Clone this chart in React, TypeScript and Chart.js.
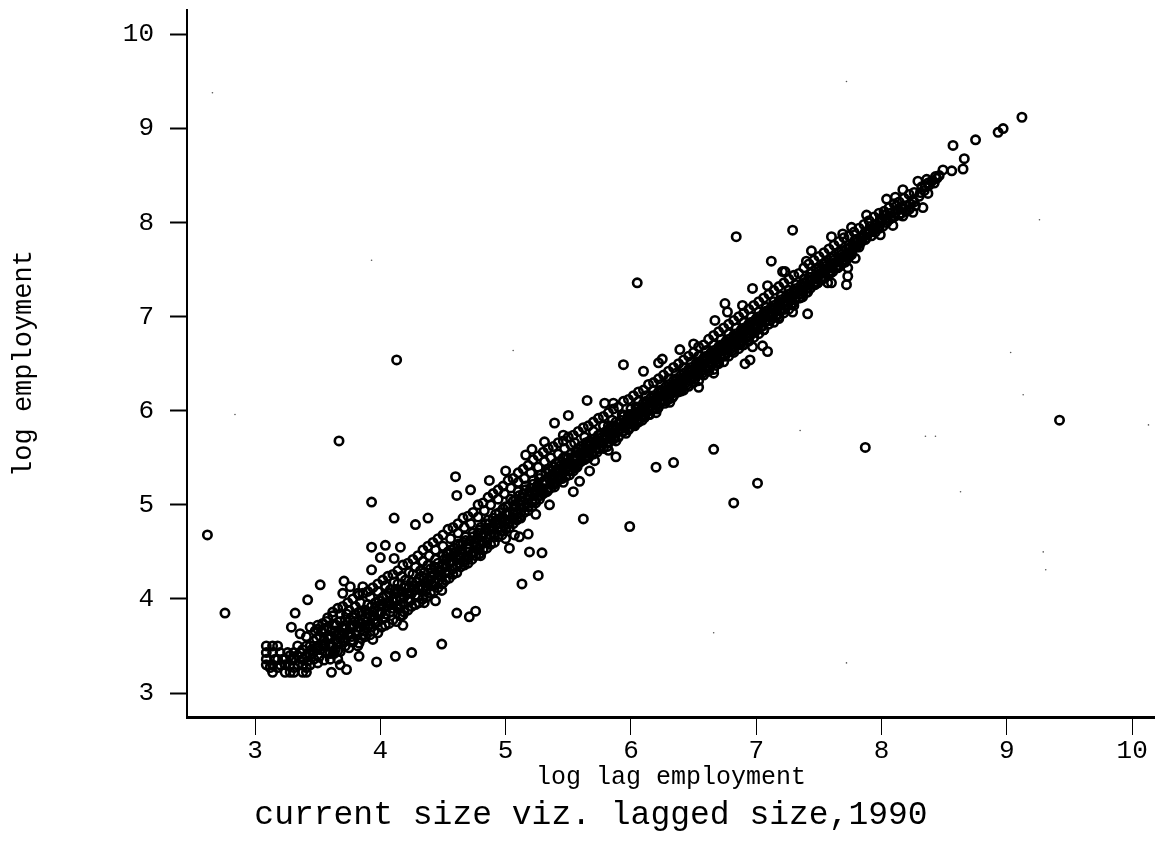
import React, { useEffect, useRef } from "react";
import { Chart, registerables } from "chart.js";

Chart.register(...registerables);

type P = [number, number];

const xTicks = [3, 4, 5, 6, 7, 8, 9, 10];
const yTicks = [3, 4, 5, 6, 7, 8, 9, 10];
const xTitle = "log lag employment";
const yTitle = "log employment";
const chartTitle = "current size viz. lagged size,1990";

const floorCorner: P[] = [
  [3.09,3.30],[3.09,3.36],[3.09,3.43],[3.09,3.50],[3.14,3.22],[3.14,3.30],[3.14,3.43],[3.14,3.50],[3.18,3.27],[3.18,3.36],[3.18,3.50],
  [3.20,3.30],[3.20,3.43],[3.24,3.22],[3.24,3.30],[3.24,3.36],[3.28,3.22],[3.28,3.30],[3.28,3.40],[3.31,3.22],[3.31,3.27],[3.31,3.36],[3.31,3.43],
  [3.34,3.30],[3.34,3.40],[3.34,3.50],[3.38,3.22],[3.38,3.30],[3.38,3.36],[3.38,3.46],[3.41,3.22],[3.41,3.27],[3.41,3.40],[3.41,3.50],[3.41,3.60],
  [3.44,3.30],[3.44,3.40],[3.44,3.50],[3.44,3.70],[3.55,3.35],[3.60,3.36],[3.66,3.36],[3.68,3.30],
  [3.16,3.36],[3.22,3.36],[3.26,3.43],[3.29,3.36],[3.36,3.43],[3.12,3.27],[3.42,3.34],[3.47,3.36],[3.5,3.32],[3.58,3.42],[3.63,3.42],
];

const bandLower: P[] = [
  [3.46,3.42],[3.47,3.55],[3.48,3.66],[3.49,3.48],[3.5,3.72],[3.51,3.38],[3.52,3.6],[3.54,3.5],[3.55,3.68],[3.56,3.44],[3.57,3.76],[3.58,3.58],[3.6,3.5],[3.61,3.66],[3.62,3.82],[3.64,3.56],[3.65,3.72],[3.66,3.45],[3.67,3.62],[3.68,3.84],[3.7,3.7],[3.71,3.54],[3.72,3.78],[3.74,3.62],[3.75,3.88],[3.76,3.7],[3.78,3.56],[3.79,3.8],[3.8,3.92],[3.81,3.66],[3.83,3.76],[3.84,3.96],[3.85,3.86],[3.87,3.66],[3.88,3.8],[3.9,3.94],[3.91,3.72],[3.92,4.02],[3.94,3.86],[3.95,3.78],[3.96,3.96],[3.98,4.08],[3.99,3.84],[4.0,3.94],[4.02,4.02],[4.03,3.8],[4.04,4.14],[4.06,3.92],[4.07,4.06],[4.08,3.86],[4.1,4.0],[4.11,4.18],[4.13,3.92],[4.14,4.1],[4.16,4.0],[4.17,4.24],[4.18,3.96],[4.2,4.14],[4.21,4.06],[4.23,4.28],[4.24,3.98],[4.25,4.18],[4.27,4.1],[4.28,4.34],[4.3,4.02],[4.31,4.22],[4.32,4.14],[4.34,4.4],[4.35,4.28],[4.36,4.08],[4.38,4.2],[4.39,4.46],[4.4,4.32],[4.42,4.14],[4.43,4.26],[4.44,4.52],[4.46,4.38],[4.47,4.2],[4.48,4.3],[4.5,4.56],[4.51,4.42],
];

const bandMiddle: P[] = [
  [4.52,4.28],[4.54,4.5],[4.55,4.38],[4.56,4.64],[4.58,4.32],[4.59,4.54],[4.6,4.44],[4.62,4.7],[4.63,4.38],[4.64,4.58],[4.66,4.48],[4.67,4.76],[4.68,4.62],[4.7,4.44],[4.71,4.54],[4.72,4.8],[4.74,4.66],[4.75,4.5],[4.76,4.6],[4.78,4.87],[4.79,4.73],[4.8,4.58],[4.82,4.68],[4.83,4.94],[4.84,4.8],[4.86,4.64],[4.87,4.74],[4.88,5.0],[4.9,4.86],[4.91,4.7],[4.92,4.8],[4.94,5.06],[4.95,4.92],[4.96,4.76],[4.98,4.86],[4.99,5.12],[5.0,4.98],[5.02,4.8],[5.03,4.92],[5.04,5.18],[5.06,5.04],[5.07,4.86],[5.08,4.98],[5.1,5.24],[5.11,5.1],[5.12,4.92],[5.14,5.04],[5.15,5.28],[5.16,5.16],[5.18,4.98],[5.19,5.1],[5.2,5.34],[5.22,5.22],[5.23,5.04],[5.24,5.16],[5.26,5.4],[5.27,5.28],[5.28,5.1],[5.3,5.22],[5.31,5.46],[5.32,5.34],[5.34,5.16],[5.35,5.28],[5.36,5.5],[5.38,5.4],[5.39,5.24],[5.4,5.34],[5.42,5.54],[5.43,5.46],[5.44,5.3],[5.46,5.4],[5.47,5.6],[5.48,5.5],[5.5,5.36],[5.51,5.46],[5.52,5.64],
];

const bandUpperMiddle: P[] = [
  [5.54,5.48],[5.55,5.66],[5.57,5.56],[5.58,5.44],[5.6,5.62],[5.61,5.52],[5.63,5.72],[5.64,5.58],[5.66,5.5],[5.67,5.68],[5.69,5.6],[5.7,5.78],[5.72,5.64],[5.73,5.56],[5.75,5.74],[5.76,5.66],[5.78,5.84],[5.79,5.7],[5.81,5.62],[5.82,5.8],[5.84,5.74],[5.85,5.9],[5.87,5.76],[5.88,5.68],[5.9,5.86],[5.91,5.8],[5.93,5.96],[5.94,5.84],[5.96,5.76],[5.97,5.92],[5.99,5.86],[6.0,6.02],[6.02,5.92],[6.03,5.84],[6.05,5.98],[6.06,6.1],[6.08,5.98],[6.09,5.9],[6.11,6.04],[6.12,6.16],[6.14,6.04],[6.15,5.96],[6.17,6.1],[6.18,6.22],[6.2,6.1],[6.21,6.02],[6.23,6.16],[6.24,6.28],[6.26,6.16],[6.27,6.08],[6.29,6.22],[6.3,6.34],[6.32,6.22],[6.33,6.14],[6.35,6.28],[6.36,6.4],[6.38,6.28],[6.39,6.22],[6.41,6.34],[6.42,6.46],[6.44,6.34],[6.45,6.28],[6.47,6.42],[6.48,6.52],[6.5,6.4],[6.51,6.34],[6.53,6.48],[6.54,6.58],[6.56,6.46],[6.57,6.4],[6.59,6.54],[6.6,6.64],[6.62,6.52],[6.63,6.46],[6.65,6.6],[6.66,6.7],[6.68,6.58],[6.69,6.52],[6.71,6.66],[6.72,6.76],[6.74,6.64],[6.75,6.58],[6.77,6.72],[6.78,6.82],[6.8,6.7],[6.81,6.64],[6.83,6.78],[6.84,6.88],[6.86,6.76],[6.87,6.7],[6.89,6.84],[6.9,6.94],[6.92,6.82],[6.93,6.78],[6.95,6.9],[6.96,7.0],[6.98,6.88],[6.99,6.84],
];

const bandTop: P[] = [
  [7.01,6.96],[7.02,7.05],[7.04,6.94],[7.05,6.9],[7.07,7.02],[7.08,7.1],[7.1,7.0],[7.11,6.96],[7.13,7.08],[7.14,7.16],[7.16,7.06],[7.17,7.02],[7.19,7.14],[7.2,7.22],[7.22,7.12],[7.23,7.08],[7.25,7.2],[7.26,7.28],[7.28,7.18],[7.29,7.14],[7.31,7.26],[7.32,7.34],[7.34,7.24],[7.35,7.2],[7.37,7.32],[7.38,7.4],[7.4,7.3],[7.41,7.26],[7.43,7.38],[7.44,7.46],[7.46,7.36],[7.47,7.34],[7.49,7.44],[7.5,7.52],[7.52,7.42],[7.53,7.4],[7.55,7.5],[7.56,7.58],[7.58,7.48],[7.59,7.46],[7.61,7.56],[7.62,7.64],[7.64,7.54],[7.65,7.52],[7.67,7.62],[7.68,7.7],[7.7,7.6],[7.71,7.58],[7.73,7.68],[7.74,7.76],[7.76,7.66],[7.77,7.72],[7.79,7.74],[7.8,7.82],[7.82,7.74],[7.84,7.8],[7.86,7.86],[7.88,7.84],[7.9,7.92],[7.92,7.86],[7.94,7.92],[7.96,7.98],[7.98,7.94],[8.0,8.02],[8.02,8.08],[8.04,8.0],[8.07,8.1],[8.1,8.06],[8.13,8.14],[8.16,8.1],[8.19,8.18],[8.22,8.14],[8.25,8.24],[8.27,8.18],[8.3,8.28],[8.32,8.38],[8.34,8.34],[8.37,8.42],[8.4,8.44],[8.42,8.42],[8.44,8.47],[8.46,8.5],
];

const denseLower: P[] = [
  [3.45,3.46],[3.47,3.44],[3.49,3.58],[3.5,3.5],[3.52,3.46],[3.53,3.66],[3.55,3.56],[3.56,3.5],[3.58,3.7],[3.59,3.52],[3.61,3.6],[3.62,3.5],[3.63,3.72],[3.65,3.62],[3.66,3.54],[3.68,3.76],[3.69,3.62],[3.7,3.56],[3.72,3.68],[3.73,3.84],[3.75,3.64],[3.76,3.78],[3.77,3.6],[3.79,3.72],[3.8,3.84],[3.82,3.7],[3.83,3.86],[3.85,3.74],[3.86,3.62],[3.88,3.88],[3.89,3.76],[3.9,3.84],[3.92,3.7],[3.93,3.92],[3.95,3.82],[3.96,3.9],[3.98,3.76],[3.99,3.98],[4.01,3.86],[4.02,3.94],[4.04,3.84],[4.05,4.04],[4.07,3.96],[4.08,4.1],[4.1,3.9],[4.11,4.06],[4.13,3.98],[4.14,4.16],[4.16,3.94],[4.17,4.08],[4.19,4.02],[4.2,4.2],[4.22,4.0],[4.23,4.12],[4.25,4.06],[4.26,4.26],[4.28,4.04],[4.29,4.18],[4.31,4.1],[4.32,4.3],[4.34,4.12],[4.35,4.22],[4.37,4.14],[4.38,4.36],[4.4,4.2],[4.41,4.28],[4.43,4.18],[4.44,4.42],[4.46,4.26],[4.47,4.34],[4.49,4.24],[4.5,4.46],[4.52,4.34],[4.53,4.42],[4.55,4.28],[4.56,4.52],[4.58,4.4],[4.59,4.48],[4.61,4.36],[4.62,4.58],[4.64,4.44],[4.65,4.52],[4.67,4.42],[4.68,4.66],[4.7,4.5],[4.71,4.58],[4.73,4.48],[4.74,4.7],[4.76,4.56],[4.77,4.64],[4.79,4.54],[4.8,4.76],[4.82,4.6],[4.83,4.7],[4.85,4.6],[4.86,4.84],[4.88,4.68],[4.89,4.76],[4.91,4.66],[4.92,4.9],[4.94,4.76],[4.95,4.84],[4.97,4.72],[4.98,4.96],[5.0,4.84],
];

const denseMiddle: P[] = [
  [5.01,4.92],[5.03,4.82],[5.04,5.06],[5.06,4.92],[5.07,5.0],[5.09,4.9],[5.1,5.14],[5.12,5.0],[5.13,5.08],[5.15,4.98],[5.16,5.2],[5.18,5.06],[5.19,5.14],[5.21,5.04],[5.22,5.26],[5.24,5.12],[5.25,5.2],[5.27,5.1],[5.28,5.32],[5.3,5.16],[5.31,5.26],[5.33,5.16],[5.34,5.38],[5.36,5.24],[5.37,5.32],[5.39,5.28],[5.4,5.44],[5.42,5.3],[5.43,5.38],[5.45,5.34],[5.46,5.5],[5.48,5.38],[5.49,5.44],[5.51,5.36],[5.52,5.54],[5.54,5.44],[5.55,5.5],[5.57,5.42],[5.58,5.6],[5.6,5.5],[5.61,5.56],[5.63,5.48],[5.64,5.66],[5.66,5.56],[5.67,5.62],[5.69,5.54],[5.7,5.7],[5.72,5.6],[5.73,5.68],[5.75,5.6],[5.76,5.76],[5.78,5.66],[5.79,5.74],[5.81,5.66],[5.82,5.84],[5.84,5.72],[5.85,5.8],[5.87,5.72],[5.88,5.88],[5.9,5.78],[5.91,5.86],[5.93,5.78],[5.94,5.94],[5.96,5.84],[5.97,5.9],[5.99,5.82],[6.0,5.96],[6.02,5.88],[6.03,5.98],[6.05,5.9],[6.06,6.04],[6.08,5.94],[6.09,6.02],[6.11,5.96],[6.12,6.1],[6.14,6.0],[6.15,6.08],[6.17,6.02],[6.18,6.16],[6.2,6.06],[6.21,6.14],[6.23,6.08],[6.24,6.22],[6.26,6.12],[6.27,6.2],[6.29,6.14],[6.3,6.28],[6.32,6.18],[6.33,6.26],[6.35,6.2],[6.36,6.34],[6.38,6.24],[6.39,6.32],[6.41,6.26],[6.42,6.4],[6.44,6.3],[6.45,6.38],[6.47,6.32],[6.48,6.46],[6.5,6.36],
];

const denseTop: P[] = [
  [6.51,6.44],[6.53,6.38],[6.54,6.52],[6.56,6.42],[6.57,6.5],[6.59,6.44],[6.6,6.58],[6.62,6.48],[6.63,6.56],[6.65,6.5],[6.66,6.64],[6.68,6.54],[6.69,6.62],[6.71,6.56],[6.72,6.7],[6.74,6.6],[6.75,6.68],[6.77,6.62],[6.78,6.76],[6.8,6.66],[6.81,6.74],[6.83,6.68],[6.84,6.82],[6.86,6.72],[6.87,6.8],[6.89,6.74],[6.9,6.88],[6.92,6.78],[6.93,6.86],[6.95,6.8],[6.96,6.94],[6.98,6.84],[6.99,6.92],[7.01,6.88],[7.02,7.0],[7.04,6.9],[7.05,6.98],[7.07,6.94],[7.08,7.06],[7.1,6.96],[7.11,7.04],[7.13,7.0],[7.14,7.12],[7.16,7.02],[7.17,7.1],[7.19,7.06],[7.2,7.18],[7.22,7.08],[7.23,7.16],[7.25,7.12],[7.26,7.24],[7.28,7.14],[7.29,7.22],[7.31,7.18],[7.32,7.3],[7.34,7.2],[7.35,7.28],[7.37,7.24],[7.38,7.36],[7.4,7.26],[7.41,7.34],[7.43,7.3],[7.44,7.42],[7.46,7.34],[7.47,7.4],[7.49,7.36],[7.5,7.48],[7.52,7.4],[7.53,7.46],[7.55,7.42],[7.56,7.54],[7.58,7.46],[7.59,7.52],[7.61,7.48],[7.62,7.6],[7.64,7.52],[7.65,7.58],[7.67,7.54],[7.68,7.66],[7.7,7.58],[7.71,7.64],[7.73,7.62],[7.74,7.72],[7.76,7.68],[7.78,7.76],[7.8,7.74],[7.81,7.8],[7.83,7.78],[7.85,7.84],[7.87,7.82],[7.89,7.88],[7.91,7.9],[7.93,7.94],[7.95,7.9],[7.97,7.96],[7.99,8.0],[8.01,7.96],[8.03,8.04],[8.05,8.02],[8.08,8.06],[8.11,8.1],[8.14,8.08],[8.17,8.14],[8.2,8.12],[8.23,8.2],[8.26,8.22],[8.31,8.32],[8.35,8.38],[8.38,8.4],
];

const flankLower: P[] = [
  [3.6,3.42],[3.64,3.46],[3.68,3.44],[3.72,3.5],[3.75,3.48],[3.78,3.54],[3.82,3.5],[3.85,3.58],[3.88,3.6],[3.92,3.62],[3.95,3.66],[3.98,3.64],[4.01,3.7],[4.04,3.72],[4.07,3.74],[4.1,3.78],[4.13,3.76],[4.16,3.82],[4.19,3.86],[4.22,3.88],[4.25,3.92],[4.28,3.94],[4.31,3.96],[4.34,4.0],[4.37,4.02],[4.4,4.06],[4.43,4.08],[4.46,4.12],[4.49,4.16],[4.52,4.2],[4.55,4.22],[4.58,4.26],[4.61,4.28],[4.64,4.34],[4.67,4.36],[4.7,4.38],[4.73,4.42],[4.76,4.46],[4.79,4.48],[4.82,4.52],[4.85,4.54],[4.88,4.58],[4.91,4.6],[4.94,4.66],[4.97,4.68],[5.0,4.74],[5.03,4.76],[5.06,4.8],[5.09,4.84],[5.12,4.86],[5.15,4.92],[5.18,4.94],[5.21,4.98],[5.24,5.02],[5.27,5.06],[5.3,5.12],[5.33,5.14],[5.36,5.18],[5.39,5.22],[5.42,5.26],[5.45,5.28],[5.48,5.3],[5.51,5.32],[5.54,5.36],[5.57,5.4],[5.6,5.46],[5.63,5.5],[5.66,5.52],[5.7,5.54],[5.74,5.6],[5.78,5.6],[5.82,5.66],[5.86,5.7],[5.9,5.72],[5.94,5.78],[5.98,5.8],[6.02,5.86],[6.06,5.88],[6.1,5.94],[6.14,5.96],[6.18,6.02],[6.22,6.04],[6.26,6.1],[6.3,6.12],[6.34,6.16],[6.38,6.2],[6.42,6.22],[6.46,6.26],[6.5,6.3],[6.54,6.32],[6.58,6.38],[6.62,6.42],[6.66,6.44],[6.7,6.5],[6.74,6.52],[6.78,6.58],[6.82,6.62],[6.86,6.66],[6.9,6.7],[6.94,6.74],[6.98,6.78],[7.02,6.82],[7.06,6.86],[7.1,6.92],[7.14,6.94],[7.18,7.0],[7.22,7.04],[7.26,7.08],[7.3,7.12],
];

const flankUpper: P[] = [
  [3.5,3.68],[3.54,3.74],[3.58,3.8],[3.62,3.86],[3.66,3.9],[3.7,3.92],[3.74,3.96],[3.78,4.0],[3.82,4.06],[3.86,4.06],[3.9,4.08],[3.94,4.12],[3.98,4.16],[4.02,4.2],[4.06,4.24],[4.1,4.26],[4.14,4.3],[4.18,4.36],[4.22,4.38],[4.26,4.42],[4.3,4.46],[4.34,4.52],[4.38,4.56],[4.42,4.6],[4.46,4.64],[4.5,4.68],[4.54,4.74],[4.58,4.76],[4.62,4.8],[4.66,4.86],[4.7,4.88],[4.74,4.92],[4.78,5.0],[4.82,5.02],[4.86,5.08],[4.9,5.12],[4.94,5.16],[4.98,5.2],[5.02,5.26],[5.06,5.28],[5.1,5.34],[5.14,5.38],[5.18,5.42],[5.22,5.48],[5.26,5.52],[5.3,5.56],[5.34,5.6],[5.38,5.62],[5.42,5.66],[5.46,5.68],[5.5,5.72],[5.54,5.74],[5.58,5.78],[5.62,5.82],[5.66,5.84],[5.7,5.88],[5.74,5.92],[5.78,5.94],[5.82,5.98],[5.86,6.02],[5.9,6.04],[5.94,6.1],[5.98,6.12],[6.02,6.16],[6.06,6.2],[6.1,6.22],[6.14,6.28],[6.18,6.3],[6.22,6.34],[6.26,6.38],[6.3,6.42],[6.34,6.46],[6.38,6.5],[6.42,6.54],[6.46,6.58],[6.5,6.62],[6.54,6.68],[6.58,6.7],[6.62,6.76],[6.66,6.8],[6.7,6.84],[6.74,6.88],[6.78,6.92],[6.82,6.96],[6.86,7.0],[6.9,7.04],[6.94,7.08],[6.98,7.12],[7.02,7.16],[7.06,7.2],[7.1,7.24],[7.14,7.28],[7.18,7.32],[7.22,7.36],[7.26,7.4],[7.3,7.44],[7.34,7.46],[7.38,7.52],[7.42,7.56],[7.46,7.6],[7.5,7.64],[7.54,7.68],[7.58,7.72],[7.62,7.76],[7.66,7.8],[7.7,7.84],[7.74,7.86],[7.78,7.9],[7.82,7.94],[7.86,7.98],[7.9,8.02],[7.94,8.06],[7.98,8.1],[8.02,8.12],[8.06,8.16],[8.1,8.2],[8.14,8.22],[8.18,8.26],[8.22,8.3],[8.26,8.32],
];

const fillCore: P[] = [
  [3.6,3.58],[3.64,3.66],[3.68,3.58],[3.72,3.72],[3.76,3.64],[3.8,3.76],[3.84,3.7],[3.88,3.72],[3.92,3.82],[3.96,3.74],[4.0,3.84],[4.04,3.96],[4.08,3.94],[4.12,4.1],[4.15,3.9],[4.19,4.12],[4.23,4.06],[4.26,4.14],[4.3,4.12],[4.33,4.24],[4.36,4.18],[4.4,4.24],[4.43,4.34],[4.46,4.3],[4.5,4.36],[4.53,4.48],[4.56,4.4],[4.6,4.5],[4.63,4.46],[4.66,4.6],[4.69,4.54],[4.72,4.62],[4.75,4.6],[4.78,4.7],[4.81,4.66],[4.84,4.74],[4.87,4.8],[4.9,4.74],[4.93,4.84],[4.96,4.86],[4.99,4.78],[5.02,4.98],[5.05,4.86],[5.08,5.06],[5.11,4.96],[5.14,5.12],[5.17,5.02],[5.2,5.18],[5.23,5.1],[5.26,5.22],[5.29,5.16],[5.32,5.24],[5.35,5.36],[5.38,5.3],[5.41,5.38],[5.44,5.42],[5.47,5.44],[5.5,5.5],[5.53,5.42],[5.56,5.56],[5.59,5.54],[5.62,5.6],[5.65,5.64],[5.68,5.66],[5.71,5.66],[5.74,5.74],[5.77,5.72],[5.8,5.78],[5.83,5.76],[5.86,5.84],[5.89,5.82],[5.92,5.9],[5.95,5.88],[5.98,5.96],[6.01,5.92],[6.04,6.04],[6.07,6.0],[6.1,6.08],[6.13,6.08],[6.16,6.14],[6.19,6.12],[6.22,6.2],[6.25,6.2],[6.28,6.26],[6.31,6.24],[6.34,6.32],[6.37,6.3],[6.4,6.38],[6.43,6.36],[6.46,6.44],[6.49,6.42],[6.52,6.5],[6.55,6.48],[6.58,6.56],[6.61,6.54],[6.64,6.62],[6.67,6.6],[6.7,6.68],[6.73,6.66],[6.76,6.74],[6.79,6.72],[6.82,6.8],[6.85,6.78],[6.88,6.86],[6.91,6.84],[6.94,6.92],[6.97,6.9],[7.0,6.98],[7.03,6.96],[7.06,7.04],[7.09,7.02],[7.12,7.1],[7.15,7.08],[7.18,7.16],[7.21,7.14],[7.24,7.22],[7.27,7.2],[7.3,7.28],[7.33,7.26],[7.36,7.34],[7.39,7.32],[7.42,7.42],[7.45,7.4],[7.48,7.5],[7.51,7.46],[7.54,7.56],[7.57,7.52],[7.6,7.62],[7.63,7.58],[7.66,7.68],[7.69,7.64],[7.72,7.72],[7.75,7.74],[7.79,7.82],[7.83,7.84],[7.87,7.9],[7.91,7.96],[7.95,7.98],[7.99,8.04],[8.03,8.08],[8.07,8.04],[8.12,8.18],[8.16,8.16],
];

const strayLow: P[] = [
  [2.62,4.68],[2.76,3.85],[3.67,5.68],[4.13,6.54],[4.60,5.30],[4.61,5.10],[4.72,5.16],[3.93,5.03],[4.11,4.86],[4.38,4.86],[4.28,4.79],[3.93,4.55],[4.04,4.57],[4.16,4.55],[4.0,4.44],[4.11,4.43],[3.93,4.31],[3.52,4.15],[3.71,4.19],[3.76,4.13],[3.86,4.13],[3.70,4.06],[3.83,4.04],[3.42,3.99],[3.32,3.85],[3.29,3.70],[3.36,3.63],
  [4.49,3.52],[4.25,3.43],[4.12,3.39],[3.97,3.33],[3.83,3.39],[3.61,3.22],[3.73,3.25],[4.61,3.85],[4.71,3.81],[4.76,3.87],[5.13,4.16],[5.26,4.25],[5.19,4.50],[5.29,4.49],[5.03,4.54],[5.0,4.64],[5.07,4.68],[5.11,4.66],[5.18,4.69],[4.80,4.46],[4.66,4.39],[4.50,4.17],[4.49,4.09],[4.44,3.98],[4.35,3.96],[4.18,3.72],[4.18,3.83],[3.94,3.57],[3.83,3.53],[5.35,5.0],[5.24,4.90],[5.11,4.87],[4.87,5.26],[5.0,5.36],[5.16,5.53],[5.21,5.59],[5.31,5.67],
];

const strayHigh: P[] = [
  [6.05,7.36],[5.94,6.49],[6.10,6.42],[6.22,6.51],[6.25,6.55],[5.65,6.11],[5.50,5.95],[5.39,5.87],[5.79,6.08],[5.86,6.08],[5.46,5.74],[6.39,6.65],[6.50,6.71],[6.67,6.96],[6.75,7.14],[6.77,7.05],[6.89,7.12],[6.97,7.30],[7.12,7.59],[7.44,7.70],[7.21,7.48],[7.23,7.48],[7.09,7.33],
  [6.66,5.59],[6.34,5.45],[6.20,5.40],[7.01,5.23],[6.82,5.02],[5.99,4.77],[5.62,4.85],[7.87,5.61],[9.42,5.90],[5.88,5.51],[5.82,5.58],[5.71,5.47],[5.67,5.36],[5.59,5.25],[5.54,5.14],[5.55,5.39],[5.39,5.19],[5.46,5.24],[6.02,5.85],[6.11,5.93],[6.20,5.98],[6.31,6.09],[6.40,6.21],[6.54,6.25],[6.66,6.40],[6.70,6.52],[6.91,6.50],[6.95,6.54],[7.09,6.63],[7.05,6.69],[6.97,6.68],[6.89,6.70],[7.06,6.86],[7.18,6.98],[7.29,7.05],[7.41,7.03],[7.37,7.21],[7.49,7.36],[7.57,7.36],
  [9.12,9.12],[8.97,9.0],[8.93,8.96],[8.75,8.88],[8.57,8.82],[8.66,8.68],[8.65,8.57],[8.56,8.55],[8.49,8.56],[8.17,8.35],[8.04,8.25],[8.11,8.27],[8.33,8.16],[8.25,8.11],[8.17,8.07],[8.09,7.97],[7.99,7.87],[7.88,8.08],[7.76,7.95],[7.69,7.88],[7.60,7.85],[7.40,7.59],[7.79,7.62],[7.74,7.64],[7.73,7.52],[7.73,7.43],[7.72,7.34],[7.60,7.36],[7.53,7.41],[7.29,7.92],[6.84,7.85],[8.29,8.44],[8.36,8.46],[8.43,8.49],[8.37,8.31],
];

const specks: P[] = [
  [7.72,9.50],[2.66,9.38],[2.84,5.96],[5.06,6.64],[3.93,7.60],[9.26,8.03],[9.03,6.62],[9.13,6.17],[8.63,5.14],[9.29,4.50],[9.31,4.31],[7.72,3.32],[6.66,3.64],[7.35,5.79],[8.35,5.73],[8.43,5.73],[10.13,5.85],
];

const points = (rows: P[]) => rows.map(([x, y]) => ({ x, y }));
const ink = "#000000";
const mono = "'Liberation Mono', 'DejaVu Sans Mono', monospace";

export default function App() {
  const ref = useRef<HTMLCanvasElement>(null);
  useEffect(() => {
    document.body.style.margin = "0";
    document.body.style.background = "#fff";
    const titlePlugin = {
      id: "lowerTitle",
      afterDraw(chart: any) {
        const { ctx } = chart;
        ctx.save();
        ctx.fillStyle = ink;
        ctx.font = `33px ${mono}`;
        ctx.textAlign = "center";
        ctx.textBaseline = "middle";
        ctx.fillText(chartTitle, 591, 815);
        ctx.restore();
      },
    };
    const circle = (rows: P[]) => ({
      data: points(rows),
      showLine: false,
      pointStyle: "circle" as const,
      pointRadius: 4.2,
      pointBorderWidth: 2.6,
      pointBorderColor: ink,
      pointBackgroundColor: "rgba(0,0,0,0)",
      clip: false as const,
    });
    const chart = new Chart(ref.current!, {
      type: "scatter",
      data: {
        datasets: [
          { label: "floor", ...circle(floorCorner) },
          { label: "lower", ...circle(bandLower) },
          { label: "middle", ...circle(bandMiddle) },
          { label: "upper middle", ...circle(bandUpperMiddle) },
          { label: "top", ...circle(bandTop) },
          { label: "dense lower", ...circle(denseLower) },
          { label: "dense middle", ...circle(denseMiddle) },
          { label: "dense top", ...circle(denseTop) },
          { label: "flank lower", ...circle(flankLower) },
          { label: "flank upper", ...circle(flankUpper) },
          { label: "fill core", ...circle(fillCore) },
          { label: "stray low", ...circle(strayLow) },
          { label: "stray high", ...circle(strayHigh) },
          { label: "specks", data: points(specks), showLine: false, pointRadius: 0.8, pointBorderWidth: 0, pointBackgroundColor: "#555" },
        ],
      },
      options: {
        animation: false,
        responsive: false,
        layout: { autoPadding: false, padding: { top: 10, right: 0, left: 0, bottom: 0 } },
        plugins: { legend: { display: false }, tooltip: { enabled: false }, title: { display: false } },
        scales: {
          x: {
            type: "linear",
            min: 2.457,
            max: 10.182,
            afterBuildTicks: (s: any) => { s.ticks = xTicks.map((value) => ({ value })); },
            afterFit: (s: any) => { s.height = 124; s.paddingLeft = 0; s.paddingRight = 0; },
            border: { display: true, color: ink, width: 3 },
            grid: { drawOnChartArea: false, drawTicks: true, tickLength: 18, tickColor: ink, tickWidth: 1 },
            ticks: { color: ink, font: { family: mono, size: 26 }, padding: 1, maxRotation: 0, autoSkip: false },
            title: { display: true, text: xTitle, color: ink, font: { family: mono, size: 25 }, padding: { top: 0, bottom: 49 } },
          },
          y: {
            type: "linear",
            min: 2.745,
            max: 10.26,
            afterBuildTicks: (s: any) => { s.ticks = yTicks.map((value) => ({ value })); },
            afterFit: (s: any) => { s.width = 187; s.paddingTop = 0; s.paddingBottom = 0; },
            border: { display: true, color: ink, width: 2 },
            grid: { drawOnChartArea: false, drawTicks: true, tickLength: 17, tickColor: ink, tickWidth: 2 },
            ticks: { color: ink, font: { family: mono, size: 26 }, padding: 16, autoSkip: false },
            title: { display: true, text: yTitle, color: ink, font: { family: mono, size: 27 }, padding: { top: 8, bottom: 0 } },
          },
        },
      },
      plugins: [titlePlugin],
    } as any);
    return () => chart.destroy();
  }, []);
  return <canvas ref={ref} width={1155} height={841} style={{ display: "block", width: 1155, height: 841 }} />;
}
